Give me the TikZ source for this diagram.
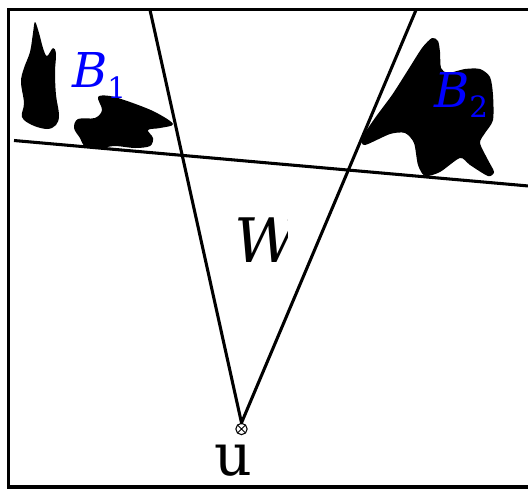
\documentclass[tikz,border=0pt]{standalone}
\usepackage{fontspec}
\setmainfont{DejaVu Serif}
\begin{document}
\begin{tikzpicture}[x=0.75pt,y=-0.75pt,
  thick line/.style={line width=2.3pt},
  blob/.style={fill=black, draw=none},
  lbl/.style={text=blue, inner sep=0pt, anchor=base west},
  lblsub/.style={text=blue, inner sep=0pt, anchor=base west, font=\fontsize{22}{22}\selectfont},
  origin/.style={circle, draw, line width=0.8pt, minimum size=8.5pt, inner sep=0pt,
    path picture={\draw[line width=0.7pt] (path picture bounding box.south west) -- (path picture bounding box.north east)
      (path picture bounding box.north west) -- (path picture bounding box.south east);}}]
\useasboundingbox (0,0) rectangle (528,490);
\clip (0,0) rectangle (528,490);
% frame
\coordinate (fr1) at (540,9.5);
\coordinate (fr2) at (8.5,9.5);
\coordinate (fr3) at (8.5,487);
\coordinate (fr4) at (540,487);
\draw[thick line] (fr1) -- (fr2) -- (fr3) -- (fr4);
% blobs
\fill[blob] plot[smooth cycle, tension=0.6] coordinates {(35,22) (39,33) (43,48) (47,56) (53,48) (56,54) (55,72) (56,95) (59,115) (56,125) (47,129) (32,125) (22,117) (24,103) (21,82) (24,68) (30,52) (33,33)};
\fill[blob] plot[smooth cycle, tension=0.55] coordinates {(98,97) (110,96) (130,102) (155,112) (173,124) (160,128) (148,130) (153,138) (150,146) (135,148) (115,146) (100,148) (85,146) (80,138) (74,128) (78,119) (95,118) (102,110)};
\fill[blob] plot[smooth cycle, tension=0.45] coordinates {(432,38) (438,41) (440,52) (441,68) (448,73) (465,69) (480,69) (490,77) (493,95) (493,120) (485,133) (480,143) (488,160) (494,172) (488,176) (470,165) (460,158) (440,172) (425,176) (418,165) (414,143) (405,133) (390,134) (365,145) (362,138) (375,118) (392,95) (408,70) (422,48)};
% lines
\coordinate (hl) at (14,140.5);
\coordinate (hr) at (540,187);
\draw[thick line] (hl) -- (hr);
\node[origin] (o) at (241.5,429) {};
\coordinate (tl) at (150,10);
\coordinate (tr) at (416,10);
\draw[thick line, line join=round] (tl) -- (o.north) -- (tr);
% labels
\node[lbl, font=\fontsize{36}{36}\selectfont\itshape] (b1) at (72,87) {B};
\node[lblsub] (b1s) at (107,98) {1};
\node[lbl, font=\fontsize{36}{36}\selectfont\itshape] (b2) at (434,107) {B};
\node[lblsub] (b2s) at (469,117) {2};
\begin{scope}
\clip (200,200) rectangle (287,280);
\node[inner sep=0pt, anchor=base west, font=\fontsize{46}{46}\selectfont\itshape] (w) at (234,262) {W};
\end{scope}
\node[inner sep=0pt, anchor=base west, font=\fontsize{44}{44}\selectfont] (u) at (214,475) {u};
\end{tikzpicture}
\end{document}
